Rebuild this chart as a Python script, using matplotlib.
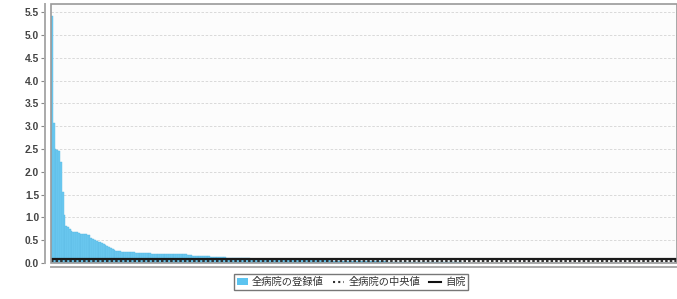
import matplotlib
matplotlib.use("Agg")
import matplotlib.pyplot as plt
from matplotlib.patches import Rectangle, Patch
from matplotlib.lines import Line2D

# ---- data ----
head_values = [
    5.42, 3.07, 2.50, 2.48, 2.45, 2.22, 1.55, 1.05, 0.82, 0.78,
    0.75, 0.70, 0.69, 0.68, 0.67, 0.66, 0.64, 0.63, 0.63, 0.63,
    0.62, 0.62, 0.55, 0.52, 0.50, 0.48, 0.47, 0.46, 0.44, 0.42,
    0.40, 0.38, 0.35, 0.32, 0.30, 0.28, 0.27, 0.26, 0.26, 0.25,
    0.25, 0.25, 0.24, 0.24, 0.23, 0.23, 0.23, 0.22, 0.22, 0.22,
    0.21, 0.21, 0.21, 0.21, 0.21, 0.21, 0.20, 0.20, 0.20, 0.20,
    0.20, 0.20, 0.20, 0.20, 0.20, 0.19, 0.19, 0.19, 0.19, 0.19,
    0.19, 0.19, 0.19, 0.19, 0.19, 0.19, 0.18, 0.17, 0.17, 0.16,
    0.16, 0.16, 0.15, 0.15,
]
mid_values = [
    0.15, 0.15, 0.15, 0.15, 0.15, 0.14, 0.14, 0.14, 0.14, 0.14,
    0.14, 0.13, 0.13, 0.13, 0.12, 0.12, 0.12, 0.12, 0.11, 0.11,
    0.11, 0.11, 0.10, 0.10, 0.10, 0.10, 0.10, 0.09,
]
tail_values = [
    0.090, 0.090, 0.090, 0.090, 0.090, 0.090, 0.090, 0.090, 0.090,
    0.088, 0.087, 0.086, 0.085, 0.084, 0.083, 0.082, 0.081, 0.080,
    0.079, 0.078, 0.077, 0.076, 0.075, 0.074, 0.073, 0.072, 0.071,
    0.070, 0.069, 0.068, 0.067, 0.066, 0.065, 0.064, 0.063, 0.062,
    0.061, 0.060, 0.060, 0.059, 0.058, 0.057, 0.056, 0.055, 0.054,
    0.053, 0.052, 0.052, 0.051, 0.051, 0.050, 0.050, 0.050, 0.050,
    0.049, 0.049, 0.048, 0.048, 0.047, 0.047, 0.046, 0.046, 0.045,
    0.045, 0.044, 0.043, 0.042, 0.041, 0.040, 0.039, 0.038, 0.037,
    0.036, 0.035, 0.034, 0.033, 0.032, 0.031, 0.030, 0.029, 0.028,
    0.027, 0.026, 0.025, 0.025, 0.024, 0.024, 0.023, 0.023, 0.022,
    0.022, 0.021, 0.021, 0.020, 0.020, 0.019, 0.019, 0.018, 0.018,
    0.017, 0.017, 0.016, 0.016, 0.015, 0.015, 0.015, 0.014, 0.014,
    0.014, 0.013, 0.013, 0.013, 0.012, 0.012, 0.012, 0.011, 0.011,
    0.011, 0.010, 0.010, 0.010, 0.010, 0.009, 0.009, 0.009, 0.009,
    0.008, 0.008, 0.008, 0.008, 0.007, 0.007, 0.007, 0.007, 0.007,
    0.006, 0.006, 0.006, 0.006, 0.006, 0.006, 0.006, 0.006, 0.006,
    0.005, 0.005, 0.005, 0.005, 0.005, 0.005, 0.005, 0.005, 0.005,
]
zero_values = [
    0, 0, 0, 0, 0, 0, 0, 0, 0, 0, 0, 0, 0, 0, 0, 0, 0,
    0, 0, 0, 0, 0, 0, 0, 0, 0, 0, 0, 0, 0, 0, 0, 0, 0,
    0, 0, 0, 0, 0, 0, 0, 0, 0, 0, 0, 0, 0, 0, 0, 0, 0,
    0, 0, 0, 0, 0, 0, 0, 0, 0, 0, 0, 0, 0, 0, 0, 0, 0,
    0, 0, 0, 0, 0, 0, 0, 0, 0, 0, 0, 0, 0, 0, 0, 0, 0,
]
hospital_values = head_values + mid_values + tail_values + zero_values
median_value = 0.05
own_value = 0.088
y_ticks = [0.0, 0.5, 1.0, 1.5, 2.0, 2.5, 3.0, 3.5, 4.0, 4.5, 5.0, 5.5]
legend_labels = ["全病院の登録値", "全病院の中央値", "自院"]

# ---- figure ----
W, H = 677, 299
fig = plt.figure(figsize=(W / 100, H / 100), dpi=100)
ax = fig.add_axes([51 / W, 1 - 263.3 / H, (W - 51) / W, (263.3 - 4) / H])
ax.set_facecolor("#fcfcfc")

x = list(range(len(hospital_values)))
ax.bar(x, hospital_values, width=1.0, color="#6ccaf2",
       edgecolor="#5bb9e2", linewidth=0.3, zorder=2)
ax.axhline(own_value, color="#1a1a1a", linewidth=1.6, zorder=4)
ax.axhline(median_value, color="#333333", linewidth=1.5,
           linestyle=(0, (1.2, 1.0)), zorder=5)

ax.set_xlim(-0.5, len(hospital_values) - 0.5)
ax.set_ylim(-0.007, 5.68)
ax.set_yticks(y_ticks)
ax.set_yticklabels([f"{v:.1f}" for v in y_ticks])
ax.set_xticks([])

ax.yaxis.grid(True, color="#d4d4d4", linestyle=(0, (3, 2)), linewidth=0.6)
ax.set_axisbelow(True)

for s in ["top", "right"]:
    ax.spines[s].set_visible(False)
ax.spines["left"].set_position(("outward", 4))
ax.spines["bottom"].set_position(("outward", 3))
for s in ["left", "bottom"]:
    ax.spines[s].set_color("#aaaaaa")
    ax.spines[s].set_linewidth(1.4)

ax.tick_params(axis="y", length=3, width=0.8, color="#888888", pad=1.5,
               labelsize=7.4, labelcolor="#444444")
for lab in ax.get_yticklabels():
    lab.set_fontweight("bold")
    lab.set_family(["Liberation Sans", "DejaVu Sans"])

frame = Rectangle((0, 0), 1, 1, transform=ax.transAxes, fill=False,
                  edgecolor="#999999", linewidth=1.2, zorder=6, clip_on=False)
ax.add_patch(frame)

handles = [
    Patch(facecolor="#5cc4f0", edgecolor="none"),
    Line2D([], [], color="#333333", linestyle=(0, (1, 1.5)), linewidth=1.5),
    Line2D([], [], color="#111111", linewidth=1.5),
]
leg = fig.legend(handles, legend_labels, loc="center", ncol=3,
                 bbox_to_anchor=(351 / W, 1 - 282 / H),
                 prop={"family": ["Noto Sans CJK JP", "DejaVu Sans"], "size": 7.4},
                 frameon=True, fancybox=False, handlelength=1.1,
                 handleheight=0.6, handletextpad=0.4, columnspacing=0.9,
                 borderpad=0.3, labelcolor="#333333")
leg.get_frame().set_edgecolor("#555555")
leg.get_frame().set_linewidth(1.0)

fig.savefig("out.png", dpi=100)
